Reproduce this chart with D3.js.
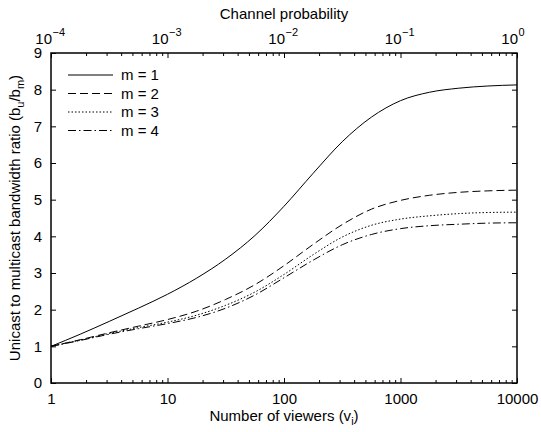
<!DOCTYPE html>
<html>
<head>
<meta charset="utf-8">
<script src="https://cdn.jsdelivr.net/npm/d3@7"></script>
<style>
  html, body { margin: 0; padding: 0; background: #fff; }
  svg { display: block; }
  text { font-family: "Liberation Sans", Arial, Helvetica, sans-serif; fill: #000; }
</style>
</head>
<body>
<svg id="chart" width="541" height="432"></svg>
<script>
// ---- data ----
const viewers = [1, 1.78, 3.16, 5.62, 10, 17.8, 31.6, 56.2, 100, 178, 316, 562, 1000, 1778, 3162, 5623, 10000];
const m1 = [1.00, 1.33, 1.68, 2.04, 2.42, 2.86, 3.38, 4.02, 4.82, 5.72, 6.58, 7.25, 7.70, 7.93, 8.04, 8.10, 8.13];
const m2 = [1.00, 1.18, 1.37, 1.55, 1.73, 1.96, 2.28, 2.68, 3.20, 3.78, 4.32, 4.74, 4.98, 5.12, 5.20, 5.24, 5.26];
const m3 = [1.00, 1.17, 1.35, 1.51, 1.66, 1.85, 2.12, 2.48, 2.96, 3.50, 3.98, 4.30, 4.47, 4.56, 4.62, 4.65, 4.66];
const m4 = [1.00, 1.16, 1.33, 1.48, 1.62, 1.79, 2.04, 2.40, 2.87, 3.35, 3.77, 4.05, 4.21, 4.29, 4.33, 4.36, 4.37];
const seriesNames = ["m = 1", "m = 2", "m = 3", "m = 4"];
const bottomTicks = [1, 10, 100, 1000, 10000];
const topTicks = [1e-4, 1e-3, 1e-2, 1e-1, 1];
const topExponents = ["\u22124", "\u22123", "\u22122", "\u22121", "0"];
const yTicks = [0, 1, 2, 3, 4, 5, 6, 7, 8, 9];

// ---- layout ----
const L = 51, R = 517, T = 53, B = 383;
const svg = d3.select("#chart");
svg.append("rect").attr("width", 541).attr("height", 432).attr("fill", "#fff");

const x = d3.scaleLog().domain([1, 10000]).range([L, R]);
const xTop = d3.scaleLog().domain([1e-4, 1]).range([L, R]);
const y = d3.scaleLinear().domain([0, 9]).range([B, T]);

function minorTicks(lo, hi) {
  const out = [];
  for (let d = lo; d < hi; d *= 10) for (let k = 2; k <= 9; k++) out.push(d * k);
  return out;
}

// ---- curves ----
const dashes = [null, "8,4", "1.5,2", "8,3,1.5,3"];
const all = [m1, m2, m3, m4];
const line = d3.line().x(d => x(d[0])).y(d => y(d[1])).curve(d3.curveMonotoneX);
all.forEach((vals, i) => {
  svg.append("path")
    .datum(viewers.map((v, j) => [v, vals[j]]))
    .attr("d", line)
    .attr("fill", "none")
    .attr("stroke", "#000")
    .attr("stroke-width", 1)
    .attr("stroke-dasharray", dashes[i]);
});

// ---- axes ----
const fs = 15;
svg.append("g").attr("transform", `translate(0,${B})`)
  .call(d3.axisBottom(x).tickValues(bottomTicks).tickFormat(d3.format("d")).tickSizeInner(-5).tickSizeOuter(0).tickPadding(10));
svg.append("g").attr("transform", `translate(0,${B})`)
  .call(d3.axisBottom(x).tickValues(minorTicks(1, 10000)).tickFormat("").tickSizeInner(-3).tickSizeOuter(0));
svg.append("g").attr("transform", `translate(0,${T})`)
  .call(d3.axisTop(xTop).tickValues(topTicks).tickFormat("").tickSizeInner(-5).tickSizeOuter(0));
svg.append("g").attr("transform", `translate(0,${T})`)
  .call(d3.axisTop(xTop).tickValues(minorTicks(1e-4, 1)).tickFormat("").tickSizeInner(-3).tickSizeOuter(0));
svg.append("g").attr("transform", `translate(${L},0)`)
  .call(d3.axisLeft(y).tickValues(yTicks).tickFormat(d3.format("d")).tickSizeInner(-5).tickSizeOuter(0).tickPadding(9));
svg.append("g").attr("transform", `translate(${R},0)`)
  .call(d3.axisRight(y).tickValues(yTicks).tickFormat("").tickSizeInner(-5).tickSizeOuter(0));

svg.selectAll(".domain").remove();
svg.selectAll(".tick line").attr("stroke", "#000").attr("stroke-width", 1);
svg.selectAll(".tick text").attr("font-size", fs).attr("font-family", '"Liberation Sans", Arial, sans-serif').attr("fill", "#000");

// box
svg.append("rect").attr("x", L).attr("y", T).attr("width", R - L).attr("height", B - T)
  .attr("fill", "none").attr("stroke", "#000").attr("stroke-width", 1.5);

// top tick labels with superscripts: "10" ends at the tick, exponent after it
topTicks.forEach((t, i) => {
  const px = xTop(t) + 1;
  svg.append("text").attr("x", px).attr("y", 44).attr("text-anchor", "end").attr("font-size", fs).text("10");
  svg.append("text").attr("x", px + 0.5).attr("y", 36).attr("font-size", 11).text(topExponents[i]);
});

// titles
svg.append("text").attr("x", (L + R) / 2).attr("y", 19).attr("text-anchor", "middle")
  .attr("font-size", fs).text("Channel probability");

const xl = svg.append("text").attr("x", (L + R) / 2).attr("y", 421).attr("text-anchor", "middle").attr("font-size", fs);
xl.append("tspan").text("Number of viewers (v");
xl.append("tspan").attr("font-size", 11).attr("dy", 4).text("i");
xl.append("tspan").attr("dy", -4).text(")");

const yl = svg.append("text").attr("transform", `translate(20,${(T + B) / 2}) rotate(-90)`)
  .attr("text-anchor", "middle").attr("font-size", fs);
yl.append("tspan").text("Unicast to multicast bandwidth ratio (b");
yl.append("tspan").attr("font-size", 11).attr("dy", 4).text("u");
yl.append("tspan").attr("dy", -4).text("/b");
yl.append("tspan").attr("font-size", 11).attr("dy", 4).text("m");
yl.append("tspan").attr("dy", -4).text(")");

// legend
const lg = svg.append("g");
seriesNames.forEach((name, i) => {
  const ly = 75 + i * 18.5;
  lg.append("line").attr("x1", 68).attr("x2", 113).attr("y1", ly).attr("y2", ly)
    .attr("stroke", "#000").attr("stroke-width", 1).attr("stroke-dasharray", dashes[i]);
  lg.append("text").attr("x", 121).attr("y", ly + 5).attr("font-size", fs).text(name);
});
</script>
</body>
</html>
